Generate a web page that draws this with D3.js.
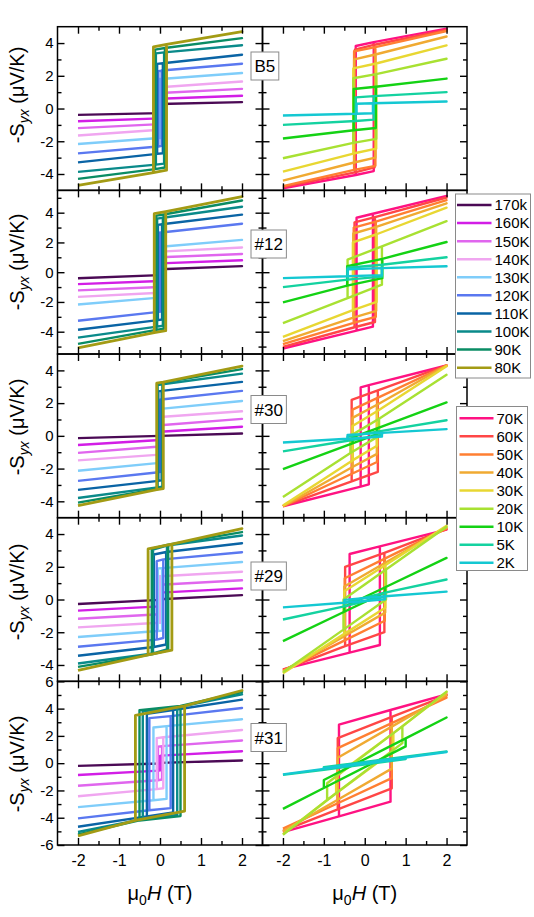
<!DOCTYPE html>
<html><head><meta charset="utf-8">
<script src="https://cdn.jsdelivr.net/npm/d3@7"></script>
<style>
body{margin:0;background:#fff}
svg{display:block}
text{font-family:"Liberation Sans",Arial,Helvetica,sans-serif;fill:#000}
</style>
</head><body>
<svg id="chart" width="534" height="917"></svg>
<script>
// ---------------- DATA ----------------
const highTemps = ["170k","160K","150K","140K","130K","120K","110K","100K","90K","80K"];
const lowTemps  = ["70K","60K","50K","40K","30K","20K","10K","5K","2K"];
const samples   = ["B5","#12","#30","#29","#31"];
const fieldTicks = [-2,-1,0,1,2];
const fieldEnds  = [-2, 2];
const yTickSets = [[-4,-2,0,2,4],[-4,-2,0,2,4],[-4,-2,0,2,4],[-4,-2,0,2,4],[-6,-4,-2,0,2,4,6]];
const yDomains  = [[-5,5],[-5.5,5.5],[-5,5],[-5,5],[-6,6]];

// loop description per temperature: hc = coercive field (T),
// L = upper branch at -hc, R = upper branch at +hc, E = upper branch at +2 T (µV/K)
// B5
const b5HiHc = [0,0,0,0,0.02,0.04,0.07,0.10,0.12,0.16];
const b5HiL  = [0.28,0.60,0.95,1.30,1.80,2.28,2.73,3.37,3.60,3.77];
const b5HiR  = [0.28,0.60,0.95,1.30,1.80,2.32,2.77,3.43,3.70,3.92];
const b5HiE  = [0.39,0.78,1.20,1.65,2.17,2.74,3.29,3.87,4.30,4.70];
const b5LoHc = [0.22,0.24,0.26,0.26,0.28,0.28,0.27,0.22,0.20];
const b5LoL  = [3.82,3.60,3.50,3.00,2.45,1.85,1.19,0.68,0.29];
const b5LoR  = [4.06,3.90,3.75,3.30,2.75,2.10,1.33,0.76,0.32];
const b5LoE  = [4.88,4.80,4.74,4.40,3.86,3.04,1.83,1.00,0.43];
// #12
const s12HiHc = [0,0,0,0,0.02,0.03,0.05,0.07,0.09,0.14];
const s12HiL  = [0.20,0.59,1.00,1.38,1.70,2.65,3.18,3.60,3.80,3.93];
const s12HiR  = [0.20,0.59,1.00,1.38,1.71,2.67,3.22,3.66,3.88,4.07];
const s12HiE  = [0.41,0.80,1.22,1.66,2.17,3.26,3.87,4.40,4.82,5.08];
const s12LoHc = [0.20,0.25,0.27,0.28,0.29,0.42,0.43,0.42,0.42];
const s12LoL  = [3.66,3.35,3.00,2.60,2.00,0.84,0.40,0.30,0.20];
const s12LoR  = [3.93,3.70,3.40,3.05,2.55,1.74,0.90,0.50,0.27];
const s12LoE  = [5.13,5.02,4.84,4.63,4.34,3.43,2.03,1.00,0.40];
// #30
const s30HiHc = [0,0,0,0,0.01,0.03,0.04,0.06,0.07,0.08];
const s30HiL  = [0.00,0.25,0.65,1.15,1.65,2.20,2.72,3.10,3.20,3.22];
const s30HiR  = [0.00,0.25,0.65,1.15,1.65,2.22,2.75,3.15,3.25,3.28];
const s30HiE  = [0.14,0.56,1.04,1.50,2.13,2.75,3.30,3.80,4.08,4.26];
const s30LoHc = [0.10,0.32,0.30,0.30,0.30,0.35,0.30,0.42,0.42];
const s30LoL  = [2.96,2.20,1.60,1.10,0.60,0.00,-0.10,-0.05,0.05];
const s30LoR  = [3.10,2.78,2.30,1.90,1.50,1.05,0.46,0.30,0.18];
const s30LoE  = [4.30,4.30,4.30,4.30,4.25,3.73,2.04,0.95,0.41];
// #29
const s29HiHc = [0,0,0,0.02,0.05,0.08,0.15,0.17,0.20,0.29];
const s29HiL  = [0.02,0.42,0.90,1.42,1.90,2.35,2.75,3.05,3.10,3.09];
const s29HiR  = [0.02,0.42,0.90,1.42,1.92,2.45,2.90,3.30,3.35,3.39];
const s29HiE  = [0.27,0.68,1.18,1.70,2.29,2.89,3.44,3.91,4.12,4.33];
const s29LoHc = [0.37,0.48,0.49,0.50,0.50,0.52,0.50,0.50,0.50];
const s29LoL  = [2.78,2.00,1.30,0.80,0.50,0.00,-0.45,-0.20,-0.02];
const s29LoR  = [3.25,2.85,2.50,2.25,2.10,1.84,0.75,0.42,0.20];
const s29LoE  = [4.27,4.30,4.35,4.40,4.50,4.45,2.54,1.22,0.48];
// #31
const s31HiHc = [0,0.03,0.05,0.08,0.16,0.26,0.32,0.42,0.50,0.60];
const s31HiL  = [0.02,0.50,1.20,1.84,2.62,3.30,3.62,3.80,3.88,3.51];
const s31HiR  = [0.02,0.55,1.25,1.90,2.72,3.45,3.90,4.10,4.20,4.20];
const s31HiE  = [0.20,0.87,1.66,2.43,3.22,4.05,4.66,5.05,5.22,5.33];
const s31LoHc = [0.63,0.66,0.66,0.66,0.70,0.92,1.00,1.00,1.00];
const s31LoL  = [2.82,1.84,1.10,0.40,-0.90,-1.47,-1.23,-0.30,-0.36];
const s31LoR  = [3.90,3.39,2.94,2.68,2.20,2.70,1.82,0.48,0.42];
const s31LoE  = [5.05,4.96,4.80,5.00,5.20,5.25,3.35,0.86,0.82];

// ---------------- STYLE ----------------
const highColors = ["#4b0a55","#d21ee6","#e066ee","#f0a6f0","#7fcdfa","#5a78f0","#0a64a5","#0a8a8a","#0a8c64","#a39b14"];
const lowColors  = ["#ff1282","#ff4646","#ff7f32","#f0aa32","#e8d732","#a8e132","#14d214","#14d2a0","#14c8d2"];

const loopSets = [
  [{hc:b5HiHc,L:b5HiL,R:b5HiR,E:b5HiE},{hc:b5LoHc,L:b5LoL,R:b5LoR,E:b5LoE}],
  [{hc:s12HiHc,L:s12HiL,R:s12HiR,E:s12HiE},{hc:s12LoHc,L:s12LoL,R:s12LoR,E:s12LoE}],
  [{hc:s30HiHc,L:s30HiL,R:s30HiR,E:s30HiE},{hc:s30LoHc,L:s30LoL,R:s30LoR,E:s30LoE}],
  [{hc:s29HiHc,L:s29HiL,R:s29HiR,E:s29HiE},{hc:s29LoHc,L:s29LoL,R:s29LoR,E:s29LoE}],
  [{hc:s31HiHc,L:s31HiL,R:s31HiR,E:s31HiE},{hc:s31LoHc,L:s31LoL,R:s31LoR,E:s31LoE}]
];

// ---------------- LAYOUT ----------------
const svg = d3.select("#chart");
const colX = [[57.5,262.5],[262.5,467]];
const rowTop = 26.7, rowH = 163.66;
const titleY = [95, 262, 427, 592, 764];
const labelCY = [66, 244, 409.5, 576, 737.5];
const fmt = d => String(d);

const x = colX.map(c => d3.scaleLinear().domain([-2.5,2.5]).range(c));
const line = d3.line();

samples.forEach((name, r) => {
  const top = rowTop + r*rowH, bot = top + rowH;
  const y = d3.scaleLinear().domain(yDomains[r]).range([bot, top]);
  const [y0, y1] = yDomains[r];
  const minorY = d3.range(Math.ceil(y0), Math.floor(y1)+1).filter(v => !yTickSets[r].includes(v) && v > y0 && v < y1);
  const minorX = [-1.5,-0.5,0.5,1.5];

  [0,1].forEach(side => {
    const xs = x[side];
    const g = svg.append("g");
    const set = loopSets[r][side];
    const colors = side === 0 ? highColors : lowColors;
    set.hc.forEach((hc, i) => {
      const L = set.L[i], R = set.R[i], E = set.E[i];
      const pts = [
        [fieldEnds[0], -E], [-hc, -R], [hc, -L], [hc, R], [fieldEnds[1], E],
        [hc, R], [-hc, L], [-hc, -R], [fieldEnds[0], -E]
      ].map(p => [xs(p[0]), y(p[1])]);
      g.append("path").attr("d", line(pts))
        .attr("fill","none").attr("stroke", colors[i])
        .attr("stroke-width", (side===0 && i===9) ? 2.8 : 2.4)
        .attr("stroke-linejoin","round");
    });

    const ax = svg.append("g");
    const styleAxis = sel => { sel.select(".domain").remove(); sel.selectAll("line").attr("stroke","#000").attr("stroke-width",1.4); };
    ax.append("g").attr("transform",`translate(${colX[side][0]},0)`)
      .call(d3.axisLeft(y).tickValues(yTickSets[r]).tickSize(-7).tickPadding(4)
        .tickFormat(side===0 ? fmt : ""))
      .call(styleAxis)
      .call(s => s.selectAll("text").attr("font-size",15).attr("font-family","Liberation Sans, Arial, sans-serif"));
    ax.append("g").attr("transform",`translate(${colX[side][0]},0)`)
      .call(d3.axisLeft(y).tickValues(minorY).tickSize(-4).tickFormat("")).call(styleAxis);
    ax.append("g").attr("transform",`translate(${colX[side][1]},0)`)
      .call(d3.axisRight(y).tickValues(yTickSets[r]).tickSize(-7).tickFormat("")).call(styleAxis);
    ax.append("g").attr("transform",`translate(${colX[side][1]},0)`)
      .call(d3.axisRight(y).tickValues(minorY).tickSize(-4).tickFormat("")).call(styleAxis);
    ax.append("g").attr("transform",`translate(0,${top})`)
      .call(d3.axisTop(xs).tickValues(fieldTicks).tickSize(-7).tickFormat("")).call(styleAxis);
    ax.append("g").attr("transform",`translate(0,${top})`)
      .call(d3.axisTop(xs).tickValues(minorX).tickSize(-4).tickFormat("")).call(styleAxis);
    ax.append("g").attr("transform",`translate(0,${bot})`)
      .call(d3.axisBottom(xs).tickValues(fieldTicks).tickSize(-7).tickPadding(10)
        .tickFormat(r===4 ? fmt : ""))
      .call(styleAxis)
      .call(s => s.selectAll("text").attr("font-size",16).attr("font-family","Liberation Sans, Arial, sans-serif"));
    ax.append("g").attr("transform",`translate(0,${bot})`)
      .call(d3.axisBottom(xs).tickValues(minorX).tickSize(-4).tickFormat("")).call(styleAxis);

    svg.append("rect").attr("x",colX[side][0]).attr("y",top)
      .attr("width",colX[side][1]-colX[side][0]).attr("height",rowH)
      .attr("fill","none").attr("stroke","#000").attr("stroke-width",1.5);
  });

  const t = svg.append("text").attr("transform",`translate(17,${titleY[r]}) rotate(-90)`)
    .attr("text-anchor","middle").attr("font-size",20).attr("dy","0.35em");
  t.append("tspan").text("-S");
  t.append("tspan").text("yx").attr("font-size",14).attr("font-style","italic").attr("dy",5);
  t.append("tspan").text(" (\u03bcV/K)").attr("dy",-5);

  const lbl = svg.append("g");
  const txt = lbl.append("text").attr("x",254.5).attr("y",labelCY[r]).attr("dy","0.36em")
    .attr("font-size",17).text(name);
  const w = txt.node().getComputedTextLength();
  lbl.insert("rect","text").attr("x",251).attr("y",labelCY[r]-14).attr("width",w+7).attr("height",28)
    .attr("fill","#fff").attr("stroke","#8a8a8a").attr("stroke-width",1);
});

[0,1].forEach(side => {
  const cx = (colX[side][0]+colX[side][1])/2;
  const t = svg.append("text").attr("x",cx).attr("y",900).attr("text-anchor","middle").attr("font-size",20);
  t.append("tspan").text("\u03bc");
  t.append("tspan").text("0").attr("font-size",14).attr("dy",5);
  t.append("tspan").text("H").attr("font-style","italic").attr("dy",-5);
  t.append("tspan").text(" (T)");
});

function legend(x0, y0, w, h, labels, colors, firstY, lineX0, lineX1, textX) {
  const g = svg.append("g");
  g.append("rect").attr("x",x0).attr("y",y0).attr("width",w).attr("height",h)
    .attr("fill","#fff").attr("stroke","#8a8a8a").attr("stroke-width",1);
  labels.forEach((lab,i) => {
    const yy = firstY + i*18.07;
    g.append("line").attr("x1",lineX0).attr("x2",lineX1).attr("y1",yy).attr("y2",yy)
      .attr("stroke",colors[i]).attr("stroke-width",2.5);
    g.append("text").attr("x",textX).attr("y",yy).attr("dy","0.36em").attr("font-size",15).text(lab);
  });
}
legend(455.5, 194, 75, 184, highTemps, highColors, 205, 457, 491.5, 494.5);
legend(456.5, 406.5, 71, 164, lowTemps, lowColors, 418.3, 459.5, 493.5, 496.5);
</script>
</body></html>
